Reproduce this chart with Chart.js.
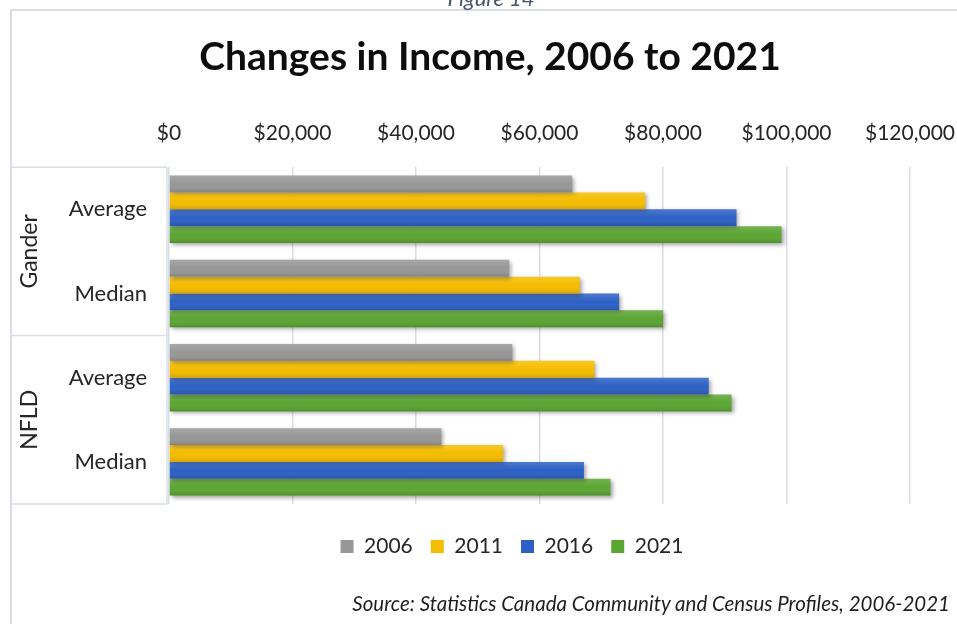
<!DOCTYPE html>
<html>
<head>
<meta charset="utf-8">
<script src="https://cdn.jsdelivr.net/npm/chart.js@4.4.0/dist/chart.umd.min.js"></script>
<style>
  html, body { margin: 0; padding: 0; background: #fff; overflow: hidden; }
  #wrap { position: relative; width: 957px; height: 624px; overflow: hidden; }
  #fig { position: absolute; left: 0; width: 982px; top: -16px; text-align: center;
         font: italic 22px Lato, sans-serif; color: #44546a; }
  #title { position: absolute; left: 0; width: 980px; top: 32px; text-align: center;
           font: bold 39px Lato, sans-serif; color: #0d0d0d; }
  #source { position: absolute; right: 7px; top: 591px;
            font: italic 20.5px Lato, sans-serif; color: #1f1f1f; }
</style>
</head>
<body>
<div id="wrap">
  <canvas id="incomeChart" width="976" height="624"></canvas>
  <div id="fig">Figure 14</div>
  <div id="title">Changes in Income, 2006 to 2021</div>
  <div id="source">Source: Statistics Canada Community and Census Profiles, 2006-2021</div>
</div>
<script>
const measures = ['Average', 'Median', 'Average', 'Median']
const places = ['Gander', 'NFLD']
const years = ['2006', '2011', '2016', '2021']

const income2006 = [65300, 55100, 55600, 44100]
const income2011 = [77100, 66500, 68900, 54100]
const income2016 = [91900, 72900, 87400, 67200]
const income2021 = [99200, 80000, 91100, 71500]

const xTicks = [0, 20000, 40000, 60000, 80000, 100000, 120000]

const yearColors = ['#979797', '#f5bd00', '#2c60c4', '#5ba532']

const FONT = 'Lato, sans-serif'
const LINE = '#d8dde6'

// soft drop shadow under the bars
const barShadow = {
  id: 'barShadow',
  beforeDatasetsDraw(chart) {
    const ctx = chart.ctx
    ctx.save()
    ctx.shadowColor = 'rgba(0,0,0,0.35)'
    ctx.shadowBlur = 4
    ctx.shadowOffsetX = 2
    ctx.shadowOffsetY = 2
  },
  afterDatasetsDraw(chart) {
    const ctx = chart.ctx
    ctx.restore()
    // light-to-dark sheen over each bar
    chart.data.datasets.forEach((ds, i) => {
      chart.getDatasetMeta(i).data.forEach(bar => {
        const top = bar.y - bar.height / 2
        const g = ctx.createLinearGradient(0, top, 0, top + bar.height)
        g.addColorStop(0, 'rgba(255,255,255,0.16)')
        g.addColorStop(0.5, 'rgba(255,255,255,0)')
        g.addColorStop(1, 'rgba(0,0,0,0.14)')
        ctx.fillStyle = g
        ctx.fillRect(bar.base, top, bar.x - bar.base, bar.height)
      })
    })
  }
}

// nudge the legend a little right and down from where the layout puts it
const legendShift = {
  id: 'legendShift',
  afterLayout(chart) {
    const lg = chart.legend
    lg.left += 24
    lg.right += 24
    lg.top += 14
    lg.bottom += 14
  }
}

// outer frame, group boxes and the rotated place names
const groupAxis = {
  id: 'groupAxis',
  afterDraw(chart) {
    const ctx = chart.ctx
    const y = chart.scales.y
    const area = chart.chartArea
    const step = (y.bottom - y.top) / measures.length
    ctx.save()
    ctx.strokeStyle = LINE
    ctx.lineWidth = 2
    ctx.beginPath()
    ctx.moveTo(11, 624)
    ctx.lineTo(11, 10)
    ctx.lineTo(chart.width, 10)
    ctx.stroke()

    ctx.lineWidth = 1.5
    ctx.beginPath()
    const boxRight = area.left - 2
    for (let k = 0; k <= places.length; k++) {
      const yy = y.top + k * step * 2
      ctx.moveTo(11, yy)
      ctx.lineTo(boxRight, yy)
    }
    ctx.moveTo(boxRight, y.top)
    ctx.lineTo(boxRight, y.bottom)
    ctx.stroke()

    ctx.fillStyle = '#262626'
    ctx.font = '23px ' + FONT
    ctx.textAlign = 'center'
    ctx.textBaseline = 'middle'
    places.forEach((name, k) => {
      const mid = y.top + step * (2 * k + 1)
      ctx.save()
      ctx.translate(30, mid)
      ctx.rotate(-Math.PI / 2)
      ctx.fillText(name, 0, 0)
      ctx.restore()
    })
    ctx.restore()
  }
}

const seriesValues = [income2006, income2011, income2016, income2021]

new Chart(document.getElementById('incomeChart'), {
  type: 'bar',
  data: {
    labels: measures,
    datasets: years.map((yr, i) => ({
      label: yr,
      data: seriesValues[i],
      backgroundColor: yearColors[i],
      borderWidth: 0,
      categoryPercentage: 0.8,
      barPercentage: 1.0
    }))
  },
  options: {
    indexAxis: 'y',
    responsive: false,
    animation: false,
    layout: { padding: { left: 0, right: 0, top: 100, bottom: 71 } },
    plugins: {
      title: { display: false },
      legend: {
        position: 'bottom',
        labels: {
          color: '#262626',
          font: { family: FONT, size: 21 },
          boxWidth: 13,
          boxHeight: 13,
          padding: 18
        }
      },
      tooltip: { enabled: false }
    },
    scales: {
      x: {
        position: 'top',
        min: 0,
        max: 120000,
        afterBuildTicks(scale) {
          scale.ticks = xTicks.map(v => ({ value: v }))
        },
        ticks: {
          color: '#262626',
          font: { family: FONT, size: 21 },
          padding: 21,
          callback: v => '$' + Number(v).toLocaleString('en-US')
        },
        grid: { color: LINE, lineWidth: 1.5, drawTicks: false },
        border: { display: false }
      },
      y: {
        afterFit(scale) { scale.width = 169 },
        ticks: {
          color: '#262626',
          font: { family: FONT, size: 22 },
          padding: 22
        },
        grid: { display: false, drawTicks: false },
        border: { display: false }
      }
    }
  },
  plugins: [barShadow, legendShift, groupAxis]
})
</script>
</body>
</html>
